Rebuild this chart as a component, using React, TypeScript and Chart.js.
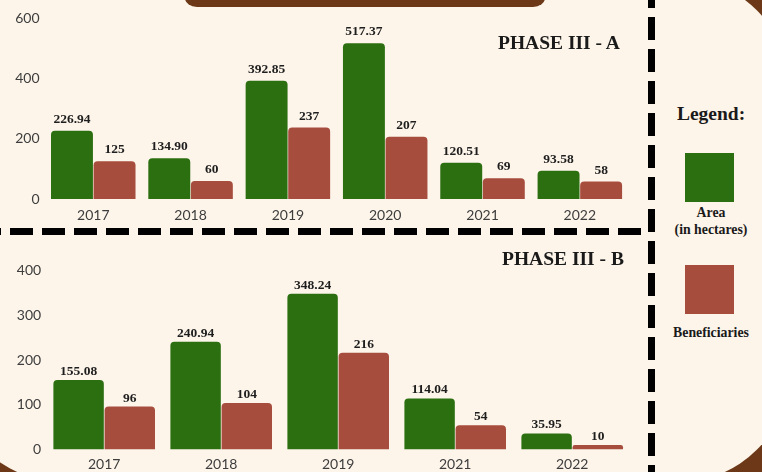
import React, { useEffect, useRef } from "react";
import { Chart, registerables } from "chart.js";

Chart.register(...registerables);

// ---- Data ----
const phaseACategories = ["2017", "2018", "2019", "2020", "2021", "2022"];
const phaseAArea = [226.94, 134.9, 392.85, 517.37, 120.51, 93.58];
const phaseABeneficiaries = [125, 60, 237, 207, 69, 58];
const phaseAYMax = 600;
const phaseAYStep = 200;

const phaseBCategories = ["2017", "2018", "2019", "2021", "2022"];
const phaseBArea = [155.08, 240.94, 348.24, 114.04, 35.95];
const phaseBBeneficiaries = [96, 104, 216, 54, 10];
const phaseBYMax = 400;
const phaseBYStep = 100;

const seriesNames = ["Area (in hectares)", "Beneficiaries"];

// ---- Styles ----
const GREEN = "#2b6f10";
const RED = "#a74d3e";
const CREAM = "#fdf5ea";
const BROWN = "#6c3817";
const SERIF = '"Liberation Serif", "Times New Roman", serif';
const SANS = 'Lato, "Open Sans", sans-serif';

const valueLabels = {
  id: "valueLabels",
  afterDatasetsDraw(chart: any, _args: any, opts: any) {
    const ctx = chart.ctx;
    ctx.save();
    ctx.font = `bold ${opts.size}px ${SERIF}`;
    ctx.fillStyle = "#1e1e1e";
    ctx.textAlign = "center";
    ctx.textBaseline = "middle";
    chart.data.datasets.forEach((ds: any, i: number) => {
      const meta = chart.getDatasetMeta(i);
      meta.data.forEach((el: any, j: number) => {
        const v = ds.data[j];
        const txt = i === 0 ? Number(v).toFixed(2) : String(v);
        ctx.fillText(txt, el.x, el.y - opts.offset);
      });
    });
    ctx.restore();
  },
};

type PanelProps = {
  categories: string[];
  area: number[];
  beneficiaries: number[];
  yMax: number;
  yStep: number;
  left: number;
  top: number;
  width: number;
  height: number;
  axisWidth: number;
  axisHeight: number;
  padTop: number;
  padRight: number;
  yTickPad: number;
  xTickPad: number;
  labelOffset: number;
};

function BarPanel(p: PanelProps) {
  const ref = useRef<HTMLCanvasElement | null>(null);
  useEffect(() => {
    if (!ref.current) return;
    const chart = new Chart(ref.current, {
      type: "bar",
      data: {
        labels: p.categories,
        datasets: [
          {
            label: seriesNames[0],
            data: p.area,
            backgroundColor: GREEN,
            borderRadius: 4,
            categoryPercentage: 0.875,
            barPercentage: 0.985,
          },
          {
            label: seriesNames[1],
            data: p.beneficiaries,
            backgroundColor: RED,
            borderRadius: 4,
            categoryPercentage: 0.875,
            barPercentage: 0.985,
          },
        ],
      },
      options: {
        animation: false,
        responsive: false,
        maintainAspectRatio: false,
        layout: { padding: { top: p.padTop, right: p.padRight, left: 0, bottom: 0 } },
        plugins: {
          legend: { display: false },
          tooltip: { enabled: false },
          valueLabels: { size: 13.5, offset: p.labelOffset },
        } as any,
        scales: {
          x: {
            grid: { display: false, drawTicks: false },
            border: { display: false },
            ticks: {
              color: "#3d3d3d",
              font: { family: SANS, size: 14 },
              padding: p.xTickPad,
              maxRotation: 0,
            },
            afterFit: (s: any) => {
              s.height = p.axisHeight;
            },
          },
          y: {
            min: 0,
            max: p.yMax,
            grid: { display: false, drawTicks: false },
            border: { display: false },
            ticks: {
              stepSize: p.yStep,
              color: "#3d3d3d",
              font: { family: SANS, size: 14 },
              padding: p.yTickPad,
            },
            afterFit: (s: any) => {
              s.width = p.axisWidth;
            },
          },
        },
      },
      plugins: [valueLabels as any],
    });
    return () => chart.destroy();
  }, []);
  return (
    <canvas
      ref={ref}
      width={p.width}
      height={p.height}
      style={{ position: "absolute", left: p.left, top: p.top, width: p.width, height: p.height }}
    />
  );
}

const titleStyle: React.CSSProperties = {
  position: "absolute",
  fontFamily: SERIF,
  fontWeight: 700,
  fontSize: 19.5,
  color: "#1a1a1a",
  whiteSpace: "nowrap",
  lineHeight: "20px",
};

const legendText: React.CSSProperties = {
  position: "absolute",
  left: 661,
  width: 100,
  textAlign: "center",
  fontFamily: SERIF,
  fontWeight: 700,
  fontSize: 13.8,
  color: "#1a1a1a",
  lineHeight: "17px",
};

export default function App() {
  return (
    <div
      style={{
        position: "fixed",
        left: 0,
        top: 0,
        width: 762,
        height: 472,
        overflow: "hidden",
        background: BROWN,
      }}
    >
      {/* cream rounded panel */}
      <div
        style={{
          position: "absolute",
          left: -47,
          top: -22,
          width: 836,
          height: 504,
          borderRadius: 110,
          background: CREAM,
        }}
      />
      {/* brown tab at top */}
      <div
        style={{
          position: "absolute",
          left: 185,
          top: -4,
          width: 360,
          height: 10.5,
          background: BROWN,
          borderRadius: "0 0 12px 12px / 0 0 9px 9px",
        }}
      />
      {/* horizontal dashed divider */}
      <div
        style={{
          position: "absolute",
          left: -22,
          top: 228,
          width: 663,
          height: 7,
          background: "repeating-linear-gradient(to right, #000 0px, #000 23px, transparent 23px, transparent 32px)",
        }}
      />
      {/* vertical dashed divider */}
      <div
        style={{
          position: "absolute",
          left: 648,
          top: -15,
          width: 7,
          height: 490,
          background: "repeating-linear-gradient(to bottom, #000 0px, #000 23px, transparent 23px, transparent 32px)",
        }}
      />

      <BarPanel
        categories={phaseACategories}
        area={phaseAArea}
        beneficiaries={phaseABeneficiaries}
        yMax={phaseAYMax}
        yStep={phaseAYStep}
        left={0}
        top={0}
        width={640}
        height={221}
        axisWidth={44.6}
        axisHeight={22}
        padTop={18.3}
        padRight={11.5}
        yTickPad={5}
        xTickPad={7.6}
        labelOffset={11.5}
      />
      <BarPanel
        categories={phaseBCategories}
        area={phaseBArea}
        beneficiaries={phaseBBeneficiaries}
        yMax={phaseBYMax}
        yStep={phaseBYStep}
        left={0}
        top={245}
        width={640}
        height={226}
        axisWidth={45.7}
        axisHeight={21.5}
        padTop={25.5}
        padRight={9.3}
        yTickPad={4.5}
        xTickPad={7}
        labelOffset={8.5}
      />

      <div style={{ ...titleStyle, left: 498, top: 33 }}>PHASE III - A</div>
      <div style={{ ...titleStyle, left: 502, top: 249 }}>PHASE III - B</div>

      <div style={{ ...titleStyle, left: 661, width: 100, textAlign: "center", top: 104 }}>Legend:</div>
      <div style={{ position: "absolute", left: 685, top: 153, width: 49, height: 49, background: GREEN }} />
      <div style={{ ...legendText, top: 204 }}>
        Area
        <br />
        (in hectares)
      </div>
      <div style={{ position: "absolute", left: 685, top: 265, width: 49, height: 49, background: RED }} />
      <div style={{ ...legendText, top: 324 }}>Beneficiaries</div>
    </div>
  );
}
